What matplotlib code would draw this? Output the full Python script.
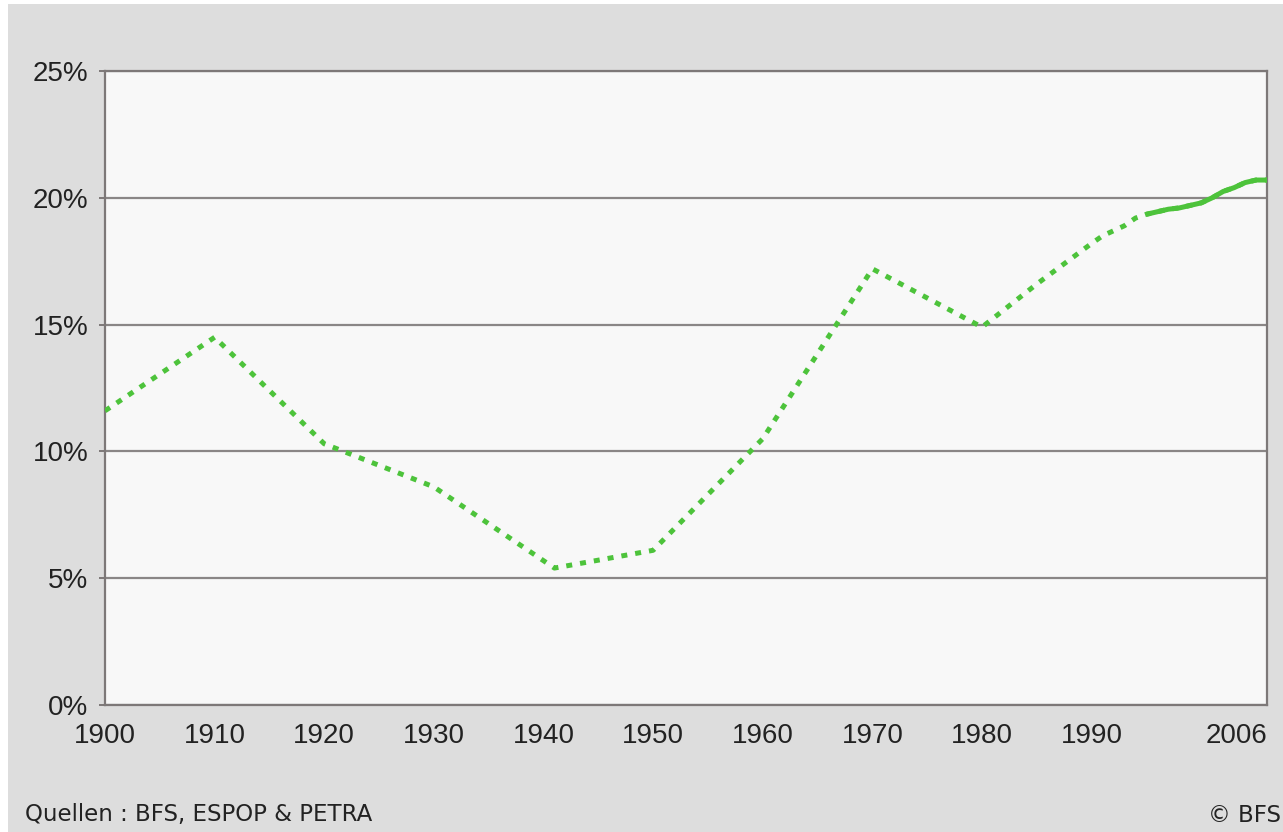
import matplotlib
matplotlib.use("Agg")
import matplotlib.pyplot as plt
from matplotlib.patches import Rectangle

plt.rcParams['font.family'] = ['Liberation Sans', 'DejaVu Sans']

# share of foreigners in the resident population (%)
years = [1900, 1910, 1920, 1930, 1941, 1950, 1960, 1970, 1980, 1985,
         1990, 1991, 1992, 1993, 1994, 1995, 1996, 1997, 1998, 1999,
         2000, 2001, 2002, 2003, 2004, 2005, 2006]
share = [11.6, 14.5, 10.3, 8.6, 5.4, 6.1, 10.5, 17.2, 14.9, 16.6,
         18.2, 18.5, 18.7, 18.9, 19.2, 19.35, 19.45, 19.55, 19.6, 19.7,
         19.8, 20.0, 20.25, 20.4, 20.6, 20.7, 20.7]
solid_from = 1995  # annual points, drawn as a continuous line

y_ticks = [0, 5, 10, 15, 20, 25]
y_labels = ['0%', '5%', '10%', '15%', '20%', '25%']
x_ticks = [1900, 1910, 1920, 1930, 1940, 1950, 1960, 1970, 1980, 1990, 2006]
x_labels = ['1900', '1910', '1920', '1930', '1940', '1950', '1960', '1970',
            '1980', '1990', '2006']

W, H = 1283, 832
green = '#4dc33b'
grid_col = '#8a8686'
txt_col = '#222222'

fig = plt.figure(figsize=(W / 100, H / 100), dpi=100)
fig.patch.set_facecolor('white')
fig.patches.append(Rectangle((8 / W, 0), 1, 1 - 4 / H, transform=fig.transFigure,
                             facecolor='#dddddd', edgecolor='none', zorder=-10))

ax = fig.add_axes([105 / W, 1 - 705 / H, (1267 - 105) / W, (705 - 71) / H])
ax.set_facecolor('#f8f8f8')

ax.plot(years, share, color=green, lw=3.6, linestyle=(0, (1.2, 1.6)),
        dash_capstyle='butt', zorder=3)
tail_x = [y for y in years if y >= solid_from]
tail_y = [v for y, v in zip(years, share) if y >= solid_from]
ax.plot(tail_x, tail_y, color=green, lw=3.6, solid_capstyle='butt', zorder=3)

ax.set_xlim(1900, 2006)
ax.set_ylim(0, 25)
ax.set_yticks(y_ticks)
ax.set_yticklabels(y_labels)
ax.set_xticks(x_ticks)
ax.set_xticklabels(x_labels)
# last label sits at the right edge of the picture, keep it inside
ax.get_xticklabels()[-1].set_horizontalalignment('right')

ax.yaxis.grid(True, color=grid_col, lw=1.6)
ax.set_axisbelow(True)
for s in ax.spines.values():
    s.set_color('#7d7878')
    s.set_linewidth(1.6)

ax.tick_params(axis='y', length=4, width=1.4, color='#7d7878', pad=8,
               labelsize=20, labelcolor=txt_col)
ax.tick_params(axis='x', length=0, pad=13, labelsize=20, labelcolor=txt_col)

fig.text(25 / W, 1 - 815 / H, 'Quellen : BFS, ESPOP & PETRA', va='center',
         ha='left', fontsize=16.5, color=txt_col, family='DejaVu Sans')
fig.text(1281 / W, 1 - 815 / H, '© BFS', va='center', ha='right',
         fontsize=16.5, color=txt_col, family='DejaVu Sans')

fig.savefig('out.png', dpi=100)
